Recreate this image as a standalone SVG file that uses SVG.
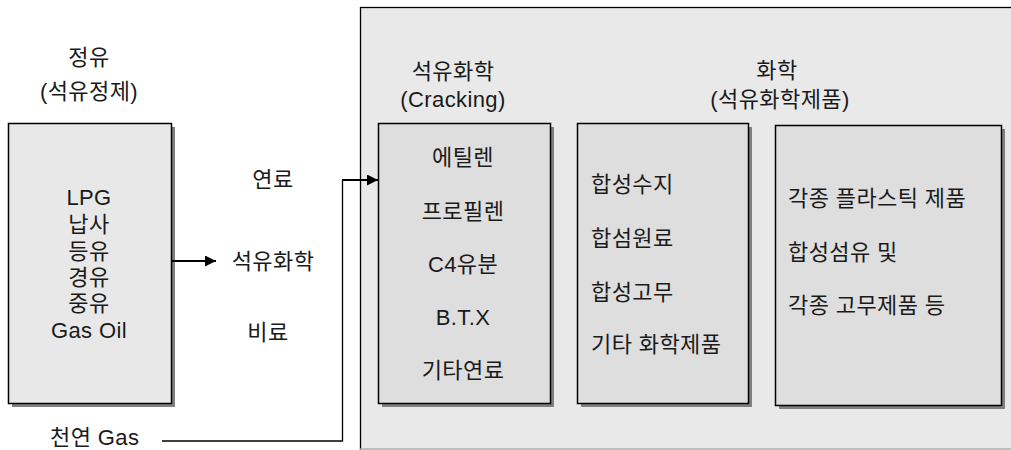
<svg xmlns="http://www.w3.org/2000/svg" width="1011" height="450" viewBox="0 0 1011 450">
<defs>
<style>
text{font-family:"Liberation Sans","Noto Sans CJK KR",sans-serif;font-size:22px;fill:#1a1a1a;dominant-baseline:central;letter-spacing:0.4px}
.c{text-anchor:middle}
.box{fill:#dedede;stroke:#000;stroke-width:1.5}
.shadow{fill:#808080}
.line{fill:none;stroke:#000;stroke-width:1.3}
.arr{fill:none;stroke:#000;stroke-width:2.2}
</style>
<marker id="ah" viewBox="0 0 10 10" refX="10" refY="5" markerWidth="5" markerHeight="5" orient="auto" markerUnits="strokeWidth">
<path d="M0,0 L10,5 L0,10 z" fill="#000"/>
</marker>
</defs>
<rect width="1011" height="450" fill="#fff"/>
<g id="panel">
<rect x="360.5" y="7.5" width="660" height="460" fill="#e9e9e9" stroke="#000" stroke-width="1.3"/>
<line x1="360" y1="449" x2="1011" y2="449" stroke="#b0b0b0" stroke-width="1.5"/>
</g>
<g id="refining">
<text class="c" x="89" y="57">정유</text>
<text class="c" x="89" y="91">(석유정제)</text>
<rect class="shadow" x="12" y="127" width="163" height="280"/>
<rect x="8.5" y="123.5" width="163" height="280" fill="#e8e8e8" stroke="#000" stroke-width="1.5"/>
<text class="c" x="89" y="197">LPG</text>
<text class="c" x="89" y="224">납사</text>
<text class="c" x="89" y="251">등유</text>
<text class="c" x="89" y="277">경유</text>
<text class="c" x="89" y="303">중유</text>
<text class="c" x="89" y="330">Gas Oil</text>
</g>
<g id="outputs">
<text class="c" x="273" y="179">연료</text>
<text class="c" x="273" y="261">석유화학</text>
<text class="c" x="268" y="332">비료</text>
</g>
<g id="natural-gas">
<text x="50" y="437">천연 Gas</text>
</g>
<g id="cracking">
<text class="c" x="453" y="71">석유화학</text>
<text class="c" x="453" y="99">(Cracking)</text>
<rect class="shadow" x="382" y="127" width="172" height="280"/>
<rect class="box" x="378.5" y="123.5" width="172" height="280"/>
<text class="c" x="463" y="157">에틸렌</text>
<text class="c" x="463" y="211">프로필렌</text>
<text class="c" x="463" y="264">C4유분</text>
<text class="c" x="463" y="317">B.T.X</text>
<text class="c" x="463" y="370">기타연료</text>
</g>
<g id="chem-title">
<text class="c" x="777" y="70">화학</text>
<text class="c" x="780" y="99">(석유화학제품)</text>
</g>
<g id="chemicals">
<rect class="shadow" x="581" y="127" width="171" height="280"/>
<rect class="box" x="577.5" y="123.5" width="171" height="280"/>
<text x="591" y="184">합성수지</text>
<text x="591" y="238">합섬원료</text>
<text x="591" y="292">합성고무</text>
<text x="591" y="344">기타 화학제품</text>
</g>
<g id="products">
<rect class="shadow" x="779" y="129" width="226" height="280"/>
<rect class="box" x="775.5" y="125.5" width="226" height="280"/>
<text x="788" y="198">각종 플라스틱 제품</text>
<text x="788" y="252">합성섬유 및</text>
<text x="788" y="305">각종 고무제품 등</text>
</g>
<g id="connectors">
<line class="arr" x1="172" y1="261" x2="216" y2="261" marker-end="url(#ah)"/>
<polyline class="line" points="162,441 342.5,441 342.5,180"/>
<line class="arr" x1="342" y1="180" x2="378" y2="180" marker-end="url(#ah)"/>
</g>
</svg>
